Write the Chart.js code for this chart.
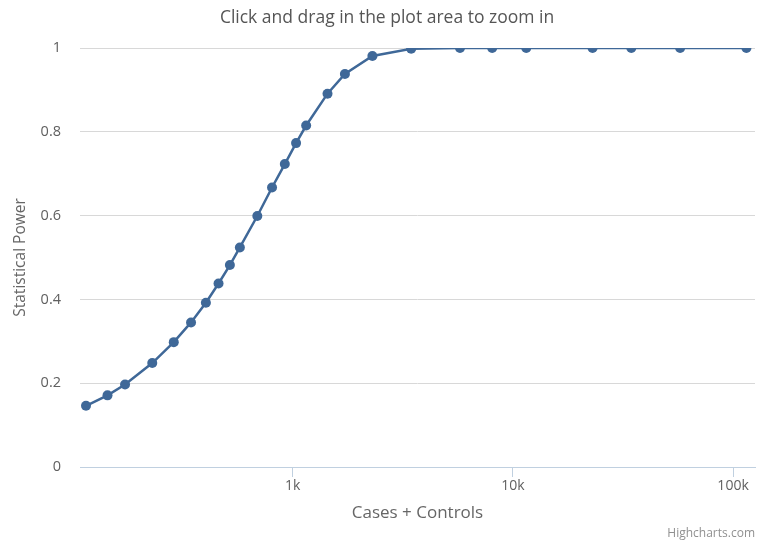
<!DOCTYPE html>
<html>
<head>
<meta charset="utf-8">
<script src="https://cdn.jsdelivr.net/npm/chart.js@4.4.1/dist/chart.umd.min.js"></script>
<style>
  html, body { margin: 0; padding: 0; background: #ffffff; }
  #wrap { width: 761px; height: 544px; position: relative; }
</style>
</head>
<body>
<div id="wrap"><canvas id="chart"></canvas></div>
<script>
// Total sample size (cases + controls) and the resulting statistical power
const sampleSizes = [115, 144, 173, 230, 288, 345, 403, 460, 518, 575, 690, 805, 920, 1035, 1150,
                     1438, 1725, 2300, 3450, 5750, 8050, 11500, 23000, 34500, 57500, 115000];
const powerValues = [0.146, 0.171, 0.197, 0.248, 0.298, 0.345, 0.392, 0.438, 0.482, 0.524, 0.599,
                     0.667, 0.723, 0.773, 0.815, 0.891, 0.938, 0.981, 0.998, 1, 1, 1, 1, 1, 1, 1];
const xTickValues = [1000, 10000, 100000];
const yTickValues = [0, 0.2, 0.4, 0.6, 0.8, 1];

const FONT = '"Open Sans", "DejaVu Sans", sans-serif';
const SERIES_COLOR = '#3f6898';

const points = sampleSizes.map((n, i) => ({ x: n, y: powerValues[i] }));

function formatK(v) {
  return v >= 1000 ? (v / 1000) + 'k' : String(v);
}

// Small attribution text in the lower right corner
const creditsPlugin = {
  id: 'credits',
  afterDraw(chart) {
    const ctx = chart.ctx;
    ctx.save();
    ctx.font = '12px ' + FONT;
    ctx.fillStyle = '#909090';
    ctx.textAlign = 'right';
    ctx.textBaseline = 'middle';
    ctx.fillText('Highcharts.com', chart.width - 6, 534);
    ctx.restore();
  }
};

// Nudge the title block so the heading sits slightly right of the canvas centre
const titleShiftPlugin = {
  id: 'titleShift',
  afterLayout(chart) {
    if (chart.titleBlock) {
      chart.titleBlock.left += 19;
    }
  }
};

new Chart(document.getElementById('chart'), {
  type: 'scatter',
  data: {
    datasets: [{
      label: 'Power',
      data: points,
      showLine: true,
      borderColor: SERIES_COLOR,
      backgroundColor: SERIES_COLOR,
      borderWidth: 2.5,
      pointRadius: 5,
      pointHoverRadius: 6,
      pointBorderWidth: 0,
      tension: 0
    }]
  },
  options: {
    responsive: true,
    maintainAspectRatio: false,
    animation: false,
    layout: { padding: { top: 0, left: 0, right: 6, bottom: 0 } },
    plugins: {
      legend: { display: false },
      tooltip: { enabled: true },
      title: {
        display: true,
        text: 'Click and drag in the plot area to zoom in',
        color: '#555555',
        font: { family: FONT, size: 17.5, weight: 'normal', lineHeight: 1.2 },
        padding: { top: 8, bottom: 19 }
      }
    },
    scales: {
      x: {
        type: 'logarithmic',
        min: 108,
        max: 125800,
        afterBuildTicks(scale) {
          scale.ticks = xTickValues.map(v => ({ value: v }));
        },
        afterFit(scale) { scale.height = 77; },
        ticks: {
          autoSkip: false,
          maxRotation: 0,
          color: '#606060',
          padding: 1,
          font: { family: FONT, size: 14 },
          callback: (v) => formatK(v)
        },
        grid: {
          drawOnChartArea: false,
          drawTicks: true,
          tickLength: 10,
          color: '#C0D0E0',
          lineWidth: 1
        },
        border: { display: true, color: '#C0D0E0', width: 1 },
        title: {
          display: true,
          text: 'Cases + Controls',
          color: '#666666',
          font: { family: FONT, size: 17 },
          padding: { top: 0, bottom: 21 }
        }
      },
      y: {
        min: 0,
        max: 1,
        afterBuildTicks(scale) {
          scale.ticks = yTickValues.map(v => ({ value: v }));
        },
        afterFit(scale) { scale.width = 80; },
        ticks: {
          color: '#606060',
          padding: 19,
          font: { family: FONT, size: 14.5 },
          callback: (v) => String(v)
        },
        grid: {
          drawTicks: false,
          color: '#D8D8D8',
          lineWidth: 1
        },
        border: { display: false },
        title: {
          display: true,
          text: 'Statistical Power',
          color: '#666666',
          font: { family: FONT, size: 15.5 },
          padding: { top: 11, bottom: 0 }
        }
      }
    }
  },
  plugins: [creditsPlugin, titleShiftPlugin]
});
</script>
</body>
</html>
